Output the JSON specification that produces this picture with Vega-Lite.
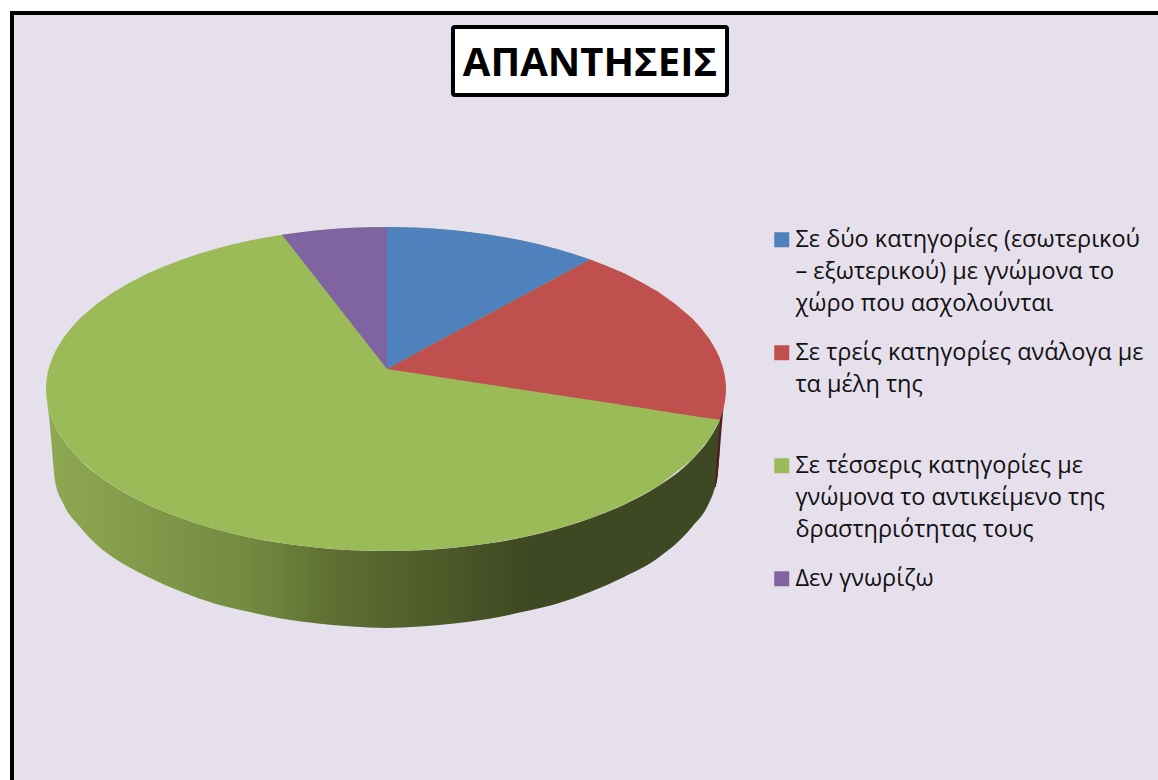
{"$schema":"https://vega.github.io/schema/vega-lite/v6.json","width":1160,"height":781,"autosize":"none","padding":{"left":12,"top":13,"right":0,"bottom":0},"background":"#FFFFFF","view":{"fill":"#E6E0EC","stroke":"#000000","strokeWidth":4},"title":{"text":"ΑΠΑΝΤΗΣΕΙΣ","font":"Open Sans","fontSize":40,"fontWeight":"bold","color":"#000000","anchor":"middle","frame":"group","offset":-71,"dx":-2},"datasets":{"box":[{"name":"title box"}],"side":[{"x":-99.7,"y":-7.7,"y2":-8},{"x":-99,"y":-14.1,"y2":-19.1},{"x":-98.3,"y":-18.3,"y2":-35.8},{"x":-97.4,"y":-22.7,"y2":-56.2},{"x":-95,"y":-31.2,"y2":-70.4},{"x":-90,"y":-43.6,"y2":-85.2},{"x":-85,"y":-52.7,"y2":-96.3},{"x":-80,"y":-60,"y2":-104.3},{"x":-70,"y":-71.4,"y2":-116},{"x":-60,"y":-80,"y2":-125.3},{"x":-50,"y":-86.6,"y2":-132.7},{"x":-40,"y":-91.7,"y2":-137.7},{"x":-30,"y":-95.4,"y2":-142},{"x":-20,"y":-98,"y2":-144.8},{"x":-10,"y":-99.5,"y2":-146.6},{"x":0,"y":-100,"y2":-147.5},{"x":10,"y":-99.5,"y2":-146.6},{"x":20,"y":-98,"y2":-144.8},{"x":30,"y":-95.4,"y2":-142},{"x":40,"y":-91.7,"y2":-137.7},{"x":50,"y":-86.6,"y2":-132.7},{"x":60,"y":-80,"y2":-125.3},{"x":70,"y":-71.4,"y2":-116},{"x":80,"y":-60,"y2":-104.3},{"x":90,"y":-43.6,"y2":-85.2},{"x":95,"y":-31.2,"y2":-70.4},{"x":96.8,"y":-25,"y2":-60.5},{"x":97.5,"y":-22.2,"y2":-54.3},{"x":98.2,"y":-19,"y2":-36}],"sliver":[{"x":96.7,"y":-60.5,"y2":-60.5},{"x":97,"y":-50,"y2":-60.5},{"x":97.6,"y":-35.8,"y2":-53},{"x":98.2,"y":-19,"y2":-37.7},{"x":98.8,"y":-11.7,"y2":-22.2},{"x":99.2,"y":-12,"y2":-12.6}],"top":[{"c":"Σε τέσσερις κατηγορίες με|γνώμονα το αντικείμενο της|δραστηριότητας τους","x":-100,"y":0,"y2":0},{"c":"Σε τέσσερις κατηγορίες με|γνώμονα το αντικείμενο της|δραστηριότητας τους","x":-99.9,"y":4.5,"y2":-4.5},{"c":"Σε τέσσερις κατηγορίες με|γνώμονα το αντικείμενο της|δραστηριότητας τους","x":-99.5,"y":10,"y2":-10},{"c":"Σε τέσσερις κατηγορίες με|γνώμονα το αντικείμενο της|δραστηριότητας τους","x":-99,"y":14.1,"y2":-14.1},{"c":"Σε τέσσερις κατηγορίες με|γνώμονα το αντικείμενο της|δραστηριότητας τους","x":-98,"y":19.9,"y2":-19.9},{"c":"Σε τέσσερις κατηγορίες με|γνώμονα το αντικείμενο της|δραστηριότητας τους","x":-97,"y":24.3,"y2":-24.3},{"c":"Σε τέσσερις κατηγορίες με|γνώμονα το αντικείμενο της|δραστηριότητας τους","x":-95,"y":31.2,"y2":-31.2},{"c":"Σε τέσσερις κατηγορίες με|γνώμονα το αντικείμενο της|δραστηριότητας τους","x":-92.5,"y":38,"y2":-38},{"c":"Σε τέσσερις κατηγορίες με|γνώμονα το αντικείμενο της|δραστηριότητας τους","x":-90,"y":43.6,"y2":-43.6},{"c":"Σε τέσσερις κατηγορίες με|γνώμονα το αντικείμενο της|δραστηριότητας τους","x":-85,"y":52.7,"y2":-52.7},{"c":"Σε τέσσερις κατηγορίες με|γνώμονα το αντικείμενο της|δραστηριότητας τους","x":-80,"y":60,"y2":-60},{"c":"Σε τέσσερις κατηγορίες με|γνώμονα το αντικείμενο της|δραστηριότητας τους","x":-75,"y":66.1,"y2":-66.1},{"c":"Σε τέσσερις κατηγορίες με|γνώμονα το αντικείμενο της|δραστηριότητας τους","x":-70,"y":71.4,"y2":-71.4},{"c":"Σε τέσσερις κατηγορίες με|γνώμονα το αντικείμενο της|δραστηριότητας τους","x":-65,"y":76,"y2":-76},{"c":"Σε τέσσερις κατηγορίες με|γνώμονα το αντικείμενο της|δραστηριότητας τους","x":-60,"y":80,"y2":-80},{"c":"Σε τέσσερις κατηγορίες με|γνώμονα το αντικείμενο της|δραστηριότητας τους","x":-55,"y":83.5,"y2":-83.5},{"c":"Σε τέσσερις κατηγορίες με|γνώμονα το αντικείμενο της|δραστηριότητας τους","x":-50,"y":86.6,"y2":-86.6},{"c":"Σε τέσσερις κατηγορίες με|γνώμονα το αντικείμενο της|δραστηριότητας τους","x":-45,"y":89.3,"y2":-89.3},{"c":"Σε τέσσερις κατηγορίες με|γνώμονα το αντικείμενο της|δραστηριότητας τους","x":-40,"y":91.7,"y2":-91.7},{"c":"Σε τέσσερις κατηγορίες με|γνώμονα το αντικείμενο της|δραστηριότητας τους","x":-35,"y":93.7,"y2":-93.7},{"c":"Σε τέσσερις κατηγορίες με|γνώμονα το αντικείμενο της|δραστηριότητας τους","x":-30,"y":95.4,"y2":-95.4},{"c":"Σε τέσσερις κατηγορίες με|γνώμονα το αντικείμενο της|δραστηριότητας τους","x":-20,"y":98,"y2":-98},{"c":"Σε τέσσερις κατηγορίες με|γνώμονα το αντικείμενο της|δραστηριότητας τους","x":-10,"y":99.5,"y2":-99.5},{"c":"Σε τέσσερις κατηγορίες με|γνώμονα το αντικείμενο της|δραστηριότητας τους","x":0,"y":100,"y2":-100},{"c":"Σε τέσσερις κατηγορίες με|γνώμονα το αντικείμενο της|δραστηριότητας τους","x":10,"y":99.5,"y2":-99.5},{"c":"Σε τέσσερις κατηγορίες με|γνώμονα το αντικείμενο της|δραστηριότητας τους","x":20,"y":98,"y2":-98},{"c":"Σε τέσσερις κατηγορίες με|γνώμονα το αντικείμενο της|δραστηριότητας τους","x":30,"y":95.4,"y2":-95.4},{"c":"Σε τέσσερις κατηγορίες με|γνώμονα το αντικείμενο της|δραστηριότητας τους","x":40,"y":91.7,"y2":-91.7},{"c":"Σε τέσσερις κατηγορίες με|γνώμονα το αντικείμενο της|δραστηριότητας τους","x":50,"y":86.6,"y2":-86.6},{"c":"Σε τέσσερις κατηγορίες με|γνώμονα το αντικείμενο της|δραστηριότητας τους","x":60,"y":80,"y2":-80},{"c":"Σε τέσσερις κατηγορίες με|γνώμονα το αντικείμενο της|δραστηριότητας τους","x":70,"y":71.4,"y2":-71.4},{"c":"Σε τέσσερις κατηγορίες με|γνώμονα το αντικείμενο της|δραστηριότητας τους","x":80,"y":60,"y2":-60},{"c":"Σε τέσσερις κατηγορίες με|γνώμονα το αντικείμενο της|δραστηριότητας τους","x":90,"y":43.6,"y2":-43.6},{"c":"Σε τέσσερις κατηγορίες με|γνώμονα το αντικείμενο της|δραστηριότητας τους","x":95,"y":31.2,"y2":-31.2},{"c":"Σε τέσσερις κατηγορίες με|γνώμονα το αντικείμενο της|δραστηριότητας τους","x":98,"y":19.9,"y2":-19.9},{"c":"Σε τέσσερις κατηγορίες με|γνώμονα το αντικείμενο της|δραστηριότητας τους","x":100,"y":0,"y2":0},{"c":"Δεν γνωρίζω","x":-30.6,"y":95.2,"y2":95.2},{"c":"Δεν γνωρίζω","x":-25,"y":96.8,"y2":80.2},{"c":"Δεν γνωρίζω","x":-20,"y":98,"y2":66.8},{"c":"Δεν γνωρίζω","x":-15,"y":98.9,"y2":53.4},{"c":"Δεν γνωρίζω","x":-10,"y":99.5,"y2":39.9},{"c":"Δεν γνωρίζω","x":-5,"y":99.9,"y2":26.5},{"c":"Δεν γνωρίζω","x":0.3,"y":100,"y2":12.3},{"c":"Σε δύο κατηγορίες (εσωτερικού|– εξωτερικού) με γνώμονα το|χώρο που ασχολούνται","x":0.3,"y":100,"y2":12.3},{"c":"Σε δύο κατηγορίες (εσωτερικού|– εξωτερικού) με γνώμονα το|χώρο που ασχολούνται","x":5,"y":99.9,"y2":17.6},{"c":"Σε δύο κατηγορίες (εσωτερικού|– εξωτερικού) με γνώμονα το|χώρο που ασχολούνται","x":10,"y":99.5,"y2":23.3},{"c":"Σε δύο κατηγορίες (εσωτερικού|– εξωτερικού) με γνώμονα το|χώρο που ασχολούνται","x":15,"y":98.9,"y2":29},{"c":"Σε δύο κατηγορίες (εσωτερικού|– εξωτερικού) με γνώμονα το|χώρο που ασχολούνται","x":20,"y":98,"y2":34.6},{"c":"Σε δύο κατηγορίες (εσωτερικού|– εξωτερικού) με γνώμονα το|χώρο που ασχολούνται","x":25,"y":96.8,"y2":40.3},{"c":"Σε δύο κατηγορίες (εσωτερικού|– εξωτερικού) με γνώμονα το|χώρο που ασχολούνται","x":30,"y":95.4,"y2":46},{"c":"Σε δύο κατηγορίες (εσωτερικού|– εξωτερικού) με γνώμονα το|χώρο που ασχολούνται","x":35,"y":93.7,"y2":51.6},{"c":"Σε δύο κατηγορίες (εσωτερικού|– εξωτερικού) με γνώμονα το|χώρο που ασχολούνται","x":40,"y":91.7,"y2":57.3},{"c":"Σε δύο κατηγορίες (εσωτερικού|– εξωτερικού) με γνώμονα το|χώρο που ασχολούνται","x":45,"y":89.3,"y2":63},{"c":"Σε δύο κατηγορίες (εσωτερικού|– εξωτερικού) με γνώμονα το|χώρο που ασχολούνται","x":50,"y":86.6,"y2":68.6},{"c":"Σε δύο κατηγορίες (εσωτερικού|– εξωτερικού) με γνώμονα το|χώρο που ασχολούνται","x":55,"y":83.5,"y2":74.3},{"c":"Σε δύο κατηγορίες (εσωτερικού|– εξωτερικού) με γνώμονα το|χώρο που ασχολούνται","x":60,"y":80,"y2":80},{"c":"Σε τρείς κατηγορίες ανάλογα με|τα μέλη της","x":0.3,"y":12.3,"y2":12.3},{"c":"Σε τρείς κατηγορίες ανάλογα με|τα μέλη της","x":30,"y":46,"y2":2.8},{"c":"Σε τρείς κατηγορίες ανάλογα με|τα μέλη της","x":60,"y":80,"y2":-6.8},{"c":"Σε τρείς κατηγορίες ανάλογα με|τα μέλη της","x":65,"y":76,"y2":-8.4},{"c":"Σε τρείς κατηγορίες ανάλογα με|τα μέλη της","x":70,"y":71.4,"y2":-10},{"c":"Σε τρείς κατηγορίες ανάλογα με|τα μέλη της","x":75,"y":66.1,"y2":-11.6},{"c":"Σε τρείς κατηγορίες ανάλογα με|τα μέλη της","x":80,"y":60,"y2":-13.3},{"c":"Σε τρείς κατηγορίες ανάλογα με|τα μέλη της","x":85,"y":52.7,"y2":-14.9},{"c":"Σε τρείς κατηγορίες ανάλογα με|τα μέλη της","x":90,"y":43.6,"y2":-16.5},{"c":"Σε τρείς κατηγορίες ανάλογα με|τα μέλη της","x":92.5,"y":38,"y2":-17.3},{"c":"Σε τρείς κατηγορίες ανάλογα με|τα μέλη της","x":95,"y":31.2,"y2":-18.1},{"c":"Σε τρείς κατηγορίες ανάλογα με|τα μέλη της","x":97,"y":24.3,"y2":-18.7},{"c":"Σε τρείς κατηγορίες ανάλογα με|τα μέλη της","x":98.2,"y":18.9,"y2":-19},{"c":"Σε τρείς κατηγορίες ανάλογα με|τα μέλη της","x":99,"y":14.1,"y2":-14.1},{"c":"Σε τρείς κατηγορίες ανάλογα με|τα μέλη της","x":99.5,"y":10,"y2":-10},{"c":"Σε τρείς κατηγορίες ανάλογα με|τα μέλη της","x":99.9,"y":4.5,"y2":-4.5},{"c":"Σε τρείς κατηγορίες ανάλογα με|τα μέλη της","x":100,"y":0,"y2":0}]},"layer":[{"data":{"name":"box"},"mark":{"type":"rect","fill":"#FFFFFF","stroke":"#000000","strokeWidth":4,"cornerRadius":2},"encoding":{"x":{"datum":19.7,"type":"quantitative","axis":null,"scale":{"domain":[-110,231.18],"nice":false,"zero":false}},"x2":{"datum":100.3},"y":{"datum":223.5,"type":"quantitative","axis":null,"scale":{"domain":[-250,232.1],"nice":false,"zero":false}},"y2":{"datum":181.5}}},{"data":{"name":"side"},"mark":{"type":"area","interpolate":"monotone","fill":{"x1":0,"y1":0,"x2":1,"y2":0,"gradient":"linear","stops":[{"offset":0,"color":"#8EA952"},{"offset":0.3,"color":"#738A40"},{"offset":0.42,"color":"#5F7032"},{"offset":0.72,"color":"#3E4822"},{"offset":1,"color":"#3E4822"}]}},"encoding":{"x":{"field":"x","type":"quantitative"},"y":{"field":"y","type":"quantitative","stack":null},"y2":{"field":"y2"}}},{"data":{"name":"sliver"},"mark":{"type":"area","color":"#4F1F1E"},"encoding":{"x":{"field":"x","type":"quantitative"},"y":{"field":"y","type":"quantitative","stack":null},"y2":{"field":"y2"}}},{"data":{"name":"top"},"mark":{"type":"area"},"encoding":{"x":{"field":"x","type":"quantitative"},"y":{"field":"y","type":"quantitative","stack":null},"y2":{"field":"y2"},"color":{"field":"c","type":"nominal","scale":{"domain":["Σε δύο κατηγορίες (εσωτερικού|– εξωτερικού) με γνώμονα το|χώρο που ασχολούνται","Σε τρείς κατηγορίες ανάλογα με|τα μέλη της","Σε τέσσερις κατηγορίες με|γνώμονα το αντικείμενο της|δραστηριότητας τους","Δεν γνωρίζω"],"range":["#4F81BD","#C0504D","#9BBB59","#8064A2"]},"legend":{"title":null,"orient":"none","legendX":758,"legendY":215,"symbolType":"square","symbolSize":225,"symbolStrokeWidth":0,"symbolOpacity":1,"gridAlign":"all","columns":1,"rowPadding":24,"labelFont":"Open Sans","labelFontSize":23.5,"labelColor":"#111111","labelLimit":0,"labelOffset":2,"labelBaseline":"top","labelExpr":"split(datum.label,'|')","encode":{"labels":{"update":{"lineHeight":{"value":32},"dy":{"value":-12}}}}}}}}]}
